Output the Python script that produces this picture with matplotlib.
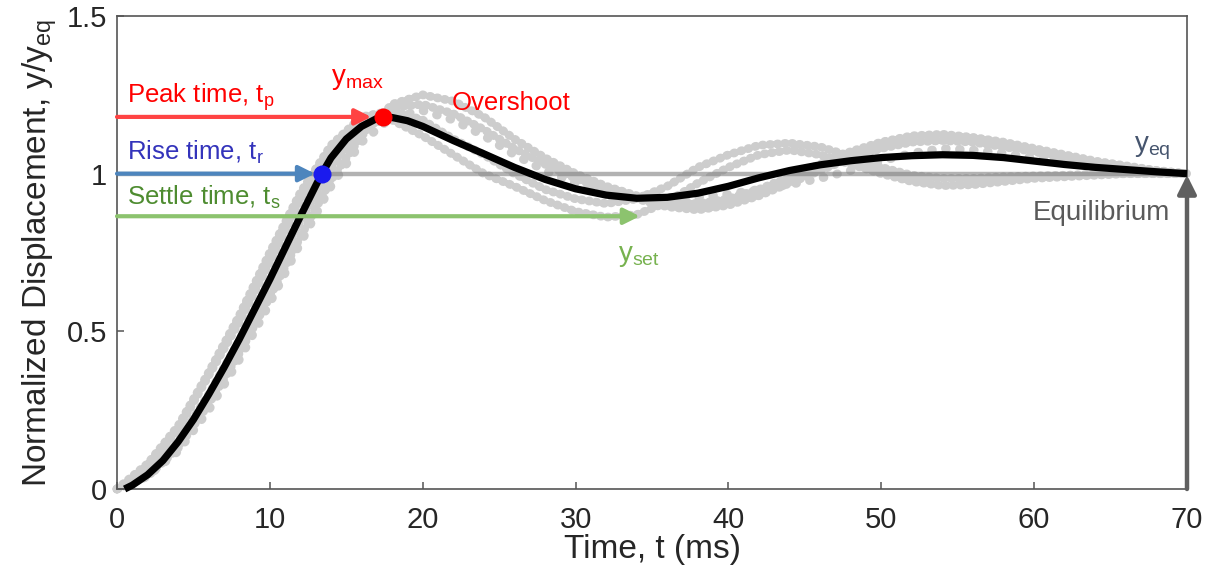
import matplotlib
matplotlib.use("Agg")
import matplotlib.pyplot as plt
import numpy as np

plt.rcParams["font.family"] = ["Liberation Sans", "DejaVu Sans"]
plt.rcParams["mathtext.fontset"] = "custom"
plt.rcParams["mathtext.rm"] = "Liberation Sans"
plt.rcParams["mathtext.it"] = "Liberation Sans:italic"
plt.rcParams["mathtext.default"] = "regular"

# mean response (ms, y/y_eq)
t_mean = [0.5, 1, 2, 3, 4, 5, 6, 7, 8, 9, 10, 11, 12, 13, 13.4, 14, 15, 16, 17, 17.4,
          18, 19, 20, 22, 24, 26, 28, 30, 32, 34, 36, 38, 40, 42, 44, 46, 48, 50,
          52, 54, 56, 58, 60, 62, 64, 66, 68, 70]
y_mean = [0.0, 0.012, 0.045, 0.09, 0.15, 0.22, 0.30, 0.385, 0.475, 0.57, 0.665, 0.765,
          0.865, 0.962, 1.0, 1.05, 1.11, 1.15, 1.175, 1.18,
          1.178, 1.168, 1.15, 1.105, 1.063, 1.02, 0.982, 0.952, 0.932, 0.922, 0.925,
          0.938, 0.96, 0.987, 1.01, 1.028, 1.041, 1.051, 1.057, 1.06, 1.058, 1.051,
          1.04, 1.029, 1.02, 1.013, 1.006, 1.0]

# individual trials
t_trial = list(range(0, 71, 2))
trial_a1 = [0, 0.07, 0.19, 0.36, 0.53, 0.72, 0.92, 1.07, 1.16, 1.17, 1.12, 1.06, 1.0,
            0.96, 0.915, 0.88, 0.862, 0.87, 0.91, 0.97, 1.02, 1.06, 1.075, 1.06, 1.03,
            1.0, 0.975, 0.962, 0.965, 0.975, 0.985, 0.99, 0.995, 1.0, 1.0, 1.0]
trial_a2 = [0, 0.08, 0.2, 0.37, 0.55, 0.75, 0.94, 1.09, 1.18, 1.2, 1.17, 1.11, 1.06,
            1.0, 0.95, 0.92, 0.905, 0.92, 0.96, 1.02, 1.06, 1.09, 1.097, 1.085, 1.055,
            1.02, 0.995, 0.985, 0.985, 0.99, 0.993, 0.995, 0.998, 1.0, 1.0, 1.0]
trial_b1 = [0, 0.04, 0.13, 0.27, 0.43, 0.61, 0.80, 0.98, 1.12, 1.22, 1.25, 1.23, 1.18,
            1.11, 1.05, 1.0, 0.96, 0.93, 0.91, 0.905, 0.92, 0.95, 0.99, 1.03, 1.07,
            1.10, 1.12, 1.125, 1.115, 1.10, 1.08, 1.06, 1.04, 1.025, 1.01, 1.0]
trial_b2 = [0, 0.05, 0.15, 0.30, 0.47, 0.66, 0.85, 1.02, 1.15, 1.21, 1.22, 1.19, 1.14,
            1.08, 1.03, 0.985, 0.95, 0.92, 0.895, 0.885, 0.90, 0.93, 0.97, 1.01, 1.05,
            1.08, 1.10, 1.105, 1.10, 1.085, 1.07, 1.05, 1.035, 1.02, 1.01, 1.0]
trial_b3 = [0, 0.04, 0.12, 0.25, 0.41, 0.59, 0.78, 0.96, 1.10, 1.18, 1.20, 1.17, 1.12,
            1.06, 1.01, 0.97, 0.945, 0.93, 0.925, 0.925, 0.935, 0.95, 0.965, 0.985,
            1.01, 1.04, 1.065, 1.08, 1.075, 1.065, 1.05, 1.035, 1.02, 1.01, 1.005, 1.0]

y_eq = 1.0
settle_time = 34.2
y_settle = 0.865

t_mean_arr = np.array(t_mean)
y_mean_arr = np.array(y_mean)
i_peak = int(np.argmax(y_mean_arr))
t_peak, y_max = t_mean_arr[i_peak], y_mean_arr[i_peak]
i_rise = int(np.argmax(y_mean_arr >= y_eq))
t_rise = t_mean_arr[i_rise]

fig = plt.figure(figsize=(12.08, 5.79), dpi=100)
ax = fig.add_axes([117 / 1208, 90 / 579, 1070 / 1208, 473 / 579])

grey = "#cdcdcd"
for y_tr in (trial_a1, trial_a2, trial_b1, trial_b2):
    ax.plot(t_trial, y_tr, color=grey, lw=6.3, linestyle=(0, (0.1, 0.75)),
            dash_capstyle="round", zorder=1, clip_on=False)
ax.plot(t_trial, trial_b3, color=grey, lw=6.3, linestyle=(0, (0.1, 1.5)),
        dash_capstyle="round", zorder=1, clip_on=False)

ax.plot([0, 70], [y_eq, y_eq], color="#808080", lw=3.2, alpha=0.6, zorder=2)

ax.plot(t_mean, y_mean, color="black", lw=5.2, solid_capstyle="butt",
        solid_joinstyle="round", zorder=3, clip_on=False)


def arrow(x0, y0, x1, y1, color, shrink, lw=3.0, scale=24):
    ax.annotate("", xy=(x1, y1), xytext=(x0, y0),
                arrowprops=dict(arrowstyle="-|>", color=color, lw=lw,
                                mutation_scale=scale, shrinkA=0, shrinkB=shrink),
                zorder=4, annotation_clip=False)


arrow(0, y_max, t_peak, y_max, "#ff4343", 8.5)
arrow(0, y_eq, t_rise, y_eq, "#4d85bd", 5)
arrow(0, y_settle, settle_time, y_settle, "#8cc36e", 0)
arrow(70, 0, 70, y_eq, "#606060", 1, lw=3.2, scale=28)

ax.plot([t_peak], [y_max], "o", color="#ff0000", ms=13, mec="none", zorder=5)
ax.plot([t_rise], [y_eq], "o", color="#1a1aee", ms=13, mec="none", zorder=5)

fs = 18.5
ax.text(0.65, 1.243, "Peak time, t$_{p}$", color="#ff0000", fontsize=fs, va="center")
ax.text(0.65, 1.069, "Rise time, t$_{r}$", color="#3333bb", fontsize=fs, va="center")
ax.text(0.65, 0.926, "Settle time, t$_{s}$", color="#4e8c30", fontsize=fs, va="center")
ax.text(14.0, 1.30, "y$_{max}$", color="#ff0000", fontsize=20, va="center")
ax.text(21.9, 1.224, "Overshoot", color="#ff0000", fontsize=fs, va="center")
ax.text(32.8, 0.74, "y$_{set}$", color="#77b24f", fontsize=20, va="center")
ax.text(68.9, 1.08, "y$_{eq}$", color="#46556e", fontsize=20, va="center", ha="right")
ax.text(68.9, 0.875, "Equilibrium", color="#5a5a5a", fontsize=20, va="center", ha="right")

ax.set_xlim(0, 70)
ax.set_ylim(0, 1.5)
ax.set_xticks([0, 10, 20, 30, 40, 50, 60, 70])
ax.set_yticks([0, 0.5, 1, 1.5])
ax.set_yticklabels(["0", "0.5", "1", "1.5"])
ax.tick_params(direction="in", length=5, width=1.1, colors="#555555",
               labelcolor="#262626", labelsize=21)
ax.tick_params(axis="x", pad=12)
ax.tick_params(axis="y", pad=7)
for side in ax.spines.values():
    side.set_color("#555555")
    side.set_linewidth(1.2)

ax.set_xlabel("Time, t (ms)", fontsize=24, color="#262626", labelpad=0)
ax.set_ylabel("Normalized Displacement, y/y$_{eq}$", fontsize=24, color="#262626",
              labelpad=6)

fig.savefig("out.png", dpi=100)
